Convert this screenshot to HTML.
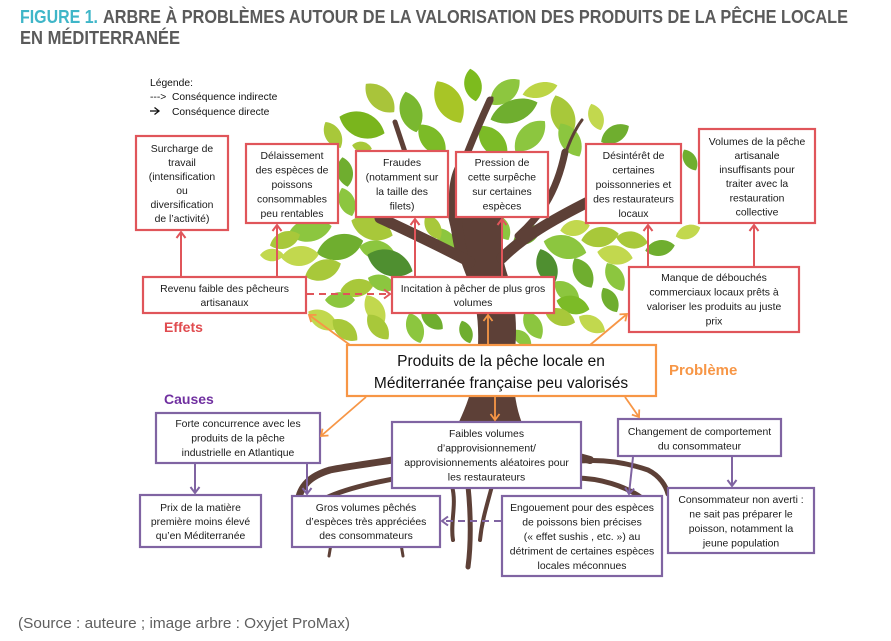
<!DOCTYPE html>
<html>
<head>
<meta charset="utf-8">
<style>
html,body{margin:0;padding:0;background:#fff;}
svg{display:block;}
</style>
</head>
<body>
<svg width="891" height="641" viewBox="0 0 891 641" xmlns="http://www.w3.org/2000/svg" xmlns:xlink="http://www.w3.org/1999/xlink" font-family="'Liberation Sans', Arial, sans-serif">
<defs>
  <path id="lf" d="M-10,0 C-5,-7 5,-7 10,0 C5,7 -5,7 -10,0Z"/>
  <marker id="ar" markerUnits="userSpaceOnUse" markerWidth="12" markerHeight="12" refX="9" refY="6" orient="auto"><path d="M3,1.5 L9,6 L3,10.5" fill="none" stroke="#e0555a" stroke-width="2"/></marker>
  <marker id="ao" markerUnits="userSpaceOnUse" markerWidth="12" markerHeight="12" refX="9" refY="6" orient="auto"><path d="M3,1.5 L9,6 L3,10.5" fill="none" stroke="#f79646" stroke-width="1.8"/></marker>
  <marker id="ap" markerUnits="userSpaceOnUse" markerWidth="12" markerHeight="12" refX="9" refY="6" orient="auto"><path d="M3,1.5 L9,6 L3,10.5" fill="none" stroke="#8064a2" stroke-width="2"/></marker>
  <marker id="ak" markerUnits="userSpaceOnUse" markerWidth="10" markerHeight="10" refX="7" refY="5" orient="auto"><path d="M2.5,1.5 L7,5 L2.5,8.5" fill="none" stroke="#111" stroke-width="1.3"/></marker>
</defs>
<rect width="891" height="641" fill="#fff"/>

<!-- Title -->
<text x="20" y="23" font-size="18.5" font-weight="bold" fill="#3fb6c8" textLength="78" lengthAdjust="spacingAndGlyphs">FIGURE 1.</text>
<text x="103" y="23" font-size="18.5" font-weight="bold" fill="#5a5a5a" textLength="745" lengthAdjust="spacingAndGlyphs">ARBRE À PROBLÈMES AUTOUR DE LA VALORISATION DES PRODUITS DE LA PÊCHE LOCALE</text>
<text x="20" y="44" font-size="18.5" font-weight="bold" fill="#5a5a5a" textLength="160" lengthAdjust="spacingAndGlyphs">EN MÉDITERRANÉE</text>

<!-- Legend -->
<g font-size="10.3" fill="#111">
  <text x="150" y="86">Légende:</text>
  <text x="150" y="100">---&gt;</text>
  <text x="172" y="100">Conséquence indirecte</text>
  <line x1="150" y1="111" x2="159" y2="111" stroke="#111" stroke-width="1.3" marker-end="url(#ak)"/>
  <text x="172" y="115">Conséquence directe</text>
</g>

<!-- Tree leaves -->
<g>
  <!-- top crown -->
  <use xlink:href="#lf" transform="translate(473 85) rotate(80) scale(1.65)" fill="#7dbb1e"/>
  <use xlink:href="#lf" transform="translate(449 102) rotate(60) scale(2.4)" fill="#a8c526"/>
  <use xlink:href="#lf" transform="translate(411 112) rotate(75) scale(2.1)" fill="#7ab830"/>
  <use xlink:href="#lf" transform="translate(380 98) rotate(45) scale(2.0)" fill="#a9c43a"/>
  <use xlink:href="#lf" transform="translate(362 125) rotate(20) scale(2.4)" fill="#7ab51d"/>
  <use xlink:href="#lf" transform="translate(333 135) rotate(60) scale(1.5)" fill="#a8c83a"/>
  <use xlink:href="#lf" transform="translate(432 140) rotate(50) scale(2.0)" fill="#7cbb27"/>
  <use xlink:href="#lf" transform="translate(505 92) rotate(-40) scale(1.9)" fill="#8dc63f"/>
  <use xlink:href="#lf" transform="translate(540 90) rotate(-15) scale(1.8 1.4)" fill="#bdd545"/>
  <use xlink:href="#lf" transform="translate(514 111) rotate(-20) scale(2.5 2.1)" fill="#6fae2f"/>
  <use xlink:href="#lf" transform="translate(563 116) rotate(70) scale(2.2)" fill="#a8c83a"/>
  <use xlink:href="#lf" transform="translate(596 117) rotate(70) scale(1.4)" fill="#c2d84e"/>
  <use xlink:href="#lf" transform="translate(530 136) rotate(-45) scale(2.1)" fill="#8cc63f"/>
  <use xlink:href="#lf" transform="translate(493 142) rotate(50) scale(2.1)" fill="#7cbb27"/>
  <use xlink:href="#lf" transform="translate(615 134) rotate(-30) scale(1.6)" fill="#6fae2f"/>
  <use xlink:href="#lf" transform="translate(570 140) rotate(60) scale(1.9)" fill="#8cc63f"/>
  <use xlink:href="#lf" transform="translate(362 147) rotate(10) scale(1.0)" fill="#a8c83a"/>
  <use xlink:href="#lf" transform="translate(345 172) rotate(80) scale(1.5)" fill="#6fae2f"/>
  <use xlink:href="#lf" transform="translate(347 202) rotate(70) scale(1.5)" fill="#8cc63f"/>
  <use xlink:href="#lf" transform="translate(690 160) rotate(60) scale(1.2)" fill="#6fae2f"/>
  <use xlink:href="#lf" transform="translate(688 232) rotate(-20) scale(1.3)" fill="#c2d84e"/>
  <!-- middle -->
  <use xlink:href="#lf" transform="translate(310 230) rotate(-10) scale(2.2)" fill="#8cc63f"/>
  <use xlink:href="#lf" transform="translate(340 247) rotate(-15) scale(2.4)" fill="#6fae2f"/>
  <use xlink:href="#lf" transform="translate(300 256) rotate(-5) scale(1.9)" fill="#c2d84e"/>
  <use xlink:href="#lf" transform="translate(372 228) rotate(20) scale(2.2)" fill="#a8c83a"/>
  <use xlink:href="#lf" transform="translate(377 250) rotate(10) scale(1.8)" fill="#8cc63f"/>
  <use xlink:href="#lf" transform="translate(323 270) rotate(-20) scale(1.9)" fill="#a8c83a"/>
  <use xlink:href="#lf" transform="translate(390 263) rotate(20) scale(2.4)" fill="#4f8f30"/>
  <use xlink:href="#lf" transform="translate(447 242) rotate(60) scale(1.6)" fill="#8cc63f"/>
  <use xlink:href="#lf" transform="translate(433 227) rotate(60) scale(1.4)" fill="#a8c83a"/>
  <use xlink:href="#lf" transform="translate(501 227) rotate(60) scale(1.5)" fill="#8cc63f"/>
  <use xlink:href="#lf" transform="translate(527 235) rotate(-30) scale(1.6)" fill="#6fae2f"/>
  <use xlink:href="#lf" transform="translate(565 247) rotate(15) scale(2.2)" fill="#8cc63f"/>
  <use xlink:href="#lf" transform="translate(547 267) rotate(70) scale(1.9)" fill="#4f8f30"/>
  <use xlink:href="#lf" transform="translate(583 273) rotate(60) scale(1.7)" fill="#6fae2f"/>
  <use xlink:href="#lf" transform="translate(600 237) rotate(-10) scale(1.9)" fill="#a8c83a"/>
  <use xlink:href="#lf" transform="translate(615 255) rotate(10) scale(1.8)" fill="#c2d84e"/>
  <use xlink:href="#lf" transform="translate(615 277) rotate(60) scale(1.6)" fill="#8cc63f"/>
  <use xlink:href="#lf" transform="translate(567 292) rotate(40) scale(1.6)" fill="#8cc63f"/>
  <use xlink:href="#lf" transform="translate(573 305) rotate(15) scale(1.7)" fill="#7cbb27"/>
  <use xlink:href="#lf" transform="translate(632 240) rotate(10) scale(1.6)" fill="#a8c83a"/>
  <use xlink:href="#lf" transform="translate(575 228) rotate(-10) scale(1.5)" fill="#c2d84e"/>
  <use xlink:href="#lf" transform="translate(285 240) rotate(-20) scale(1.6)" fill="#a8c83a"/>
  <use xlink:href="#lf" transform="translate(272 255) rotate(0) scale(1.2)" fill="#c2d84e"/>
  <use xlink:href="#lf" transform="translate(660 248) rotate(-10) scale(1.5)" fill="#6fae2f"/>
  <!-- lower -->
  <use xlink:href="#lf" transform="translate(357 288) rotate(-10) scale(1.7)" fill="#a8c83a"/>
  <use xlink:href="#lf" transform="translate(382 283) rotate(20) scale(1.5)" fill="#8cc63f"/>
  <use xlink:href="#lf" transform="translate(375 310) rotate(60) scale(1.7)" fill="#c2d84e"/>
  <use xlink:href="#lf" transform="translate(323 320) rotate(30) scale(1.7)" fill="#c2d84e"/>
  <use xlink:href="#lf" transform="translate(345 330) rotate(40) scale(1.6)" fill="#a8c83a"/>
  <use xlink:href="#lf" transform="translate(378 327) rotate(50) scale(1.6)" fill="#a8c83a"/>
  <use xlink:href="#lf" transform="translate(415 328) rotate(70) scale(1.6)" fill="#8cc63f"/>
  <use xlink:href="#lf" transform="translate(432 320) rotate(40) scale(1.4)" fill="#6fae2f"/>
  <use xlink:href="#lf" transform="translate(466 332) rotate(70) scale(1.2)" fill="#6fae2f"/>
  <use xlink:href="#lf" transform="translate(533 325) rotate(60) scale(1.6)" fill="#8cc63f"/>
  <use xlink:href="#lf" transform="translate(560 317) rotate(20) scale(1.6)" fill="#a8c83a"/>
  <use xlink:href="#lf" transform="translate(592 324) rotate(30) scale(1.5)" fill="#c2d84e"/>
  <use xlink:href="#lf" transform="translate(610 300) rotate(60) scale(1.4)" fill="#6fae2f"/>
  <use xlink:href="#lf" transform="translate(340 300) rotate(0) scale(1.5)" fill="#8cc63f"/>
  <use xlink:href="#lf" transform="translate(522 338) rotate(40) scale(1.2)" fill="#8cc63f"/>
</g>

<!-- Trunk and branches -->
<g fill="#5d4037" stroke="none">
  <path d="M446,205 C450,230 458,255 468,280 C476,300 479,320 478,345 C477,375 470,400 456,428 L524,428 C514,405 512,380 515,350 C518,320 514,295 506,270 C500,250 500,230 506,205 Z"/>
</g>
<g fill="none" stroke="#5d4037" stroke-linecap="round">
  <path d="M462,255 C455,225 451,190 460,170" stroke-width="12"/>
  <path d="M460,172 C470,145 480,122 490,100" stroke-width="7"/>
  <path d="M484,112 C487,106 489,102 492,98" stroke-width="3"/>
  <path d="M470,262 C440,246 410,232 380,218" stroke-width="11"/>
  <path d="M385,221 C375,215 368,212 360,208" stroke-width="5"/>
  <path d="M406,155 L395,122" stroke-width="5"/>
  <path d="M502,258 C522,238 548,222 592,200" stroke-width="11"/>
  <path d="M518,236 C538,218 556,196 565,152" stroke-width="7"/>
  <path d="M565,155 C570,140 576,128 582,120" stroke-width="3"/>
</g>
<!-- Roots -->
<g fill="none" stroke="#5d4037" stroke-linecap="round">
  <path d="M470,440 C430,458 370,462 330,470 C310,476 300,486 298,502" stroke-width="7"/>
  <path d="M440,470 C400,478 350,485 322,500" stroke-width="5"/>
  <path d="M300,500 C296,508 295,515 294,522" stroke-width="3"/>
  <path d="M331,544 L329,556" stroke-width="3"/>
  <path d="M401,544 L403,556" stroke-width="3"/>
  <path d="M452,486 C457,505 450,522 453,540" stroke-width="4"/>
  <path d="M468,486 C471,515 471,545 468,567" stroke-width="5"/>
  <path d="M492,486 C487,505 482,520 480,540" stroke-width="4"/>
  <path d="M570,462 C600,458 625,462 648,470 C660,476 666,486 668,494" stroke-width="5"/>
  <path d="M575,478 C600,478 625,486 642,498" stroke-width="5"/>
  <path d="M490,425 C520,440 560,452 590,460" stroke-width="8"/>
  <path d="M480,425 C455,440 420,452 395,458" stroke-width="8"/>
</g>

<!-- Red boxes -->
<g fill="#fff" stroke="#e0555a" stroke-width="2.2">
  <rect x="136" y="136" width="92" height="94"/>
  <rect x="246" y="144" width="92" height="79"/>
  <rect x="356" y="151" width="92" height="66"/>
  <rect x="456" y="152" width="92" height="65"/>
  <rect x="586" y="144" width="95" height="79"/>
  <rect x="699" y="129" width="116" height="94"/>
  <rect x="143" y="277" width="163" height="36"/>
  <rect x="392" y="277" width="162" height="36"/>
  <rect x="629" y="267" width="170" height="65"/>
</g>
<!-- Orange central box -->
<rect x="347" y="345" width="309" height="51" fill="#fff" stroke="#f79646" stroke-width="2.2"/>
<!-- Purple boxes -->
<g fill="#fff" stroke="#8064a2" stroke-width="2.2">
  <rect x="156" y="413" width="164" height="50"/>
  <rect x="140" y="495" width="121" height="52"/>
  <rect x="292" y="496" width="148" height="51"/>
  <rect x="392" y="422" width="189" height="66"/>
  <rect x="618" y="419" width="163" height="37"/>
  <rect x="502" y="496" width="160" height="80"/>
  <rect x="668" y="488" width="146" height="65"/>
</g>

<!-- Red arrows -->
<g stroke="#e0555a" stroke-width="2" fill="none">
  <line x1="181" y1="277" x2="181" y2="232" marker-end="url(#ar)"/>
  <line x1="277" y1="277" x2="277" y2="225" marker-end="url(#ar)"/>
  <line x1="415" y1="277" x2="415" y2="219" marker-end="url(#ar)"/>
  <line x1="502" y1="277" x2="502" y2="219" marker-end="url(#ar)"/>
  <line x1="648" y1="267" x2="648" y2="225" marker-end="url(#ar)"/>
  <line x1="754" y1="267" x2="754" y2="225" marker-end="url(#ar)"/>
  <line x1="307" y1="294" x2="390" y2="294" stroke-dasharray="7 5" marker-end="url(#ar)"/>
</g>
<!-- Orange arrows -->
<g stroke="#f79646" stroke-width="1.8" fill="none">
  <line x1="350" y1="345" x2="309" y2="315" marker-end="url(#ao)"/>
  <line x1="488" y1="345" x2="488" y2="315" marker-end="url(#ao)"/>
  <line x1="590" y1="345" x2="627" y2="314" marker-end="url(#ao)"/>
  <line x1="366" y1="397" x2="321" y2="436" marker-end="url(#ao)"/>
  <line x1="495" y1="397" x2="495" y2="420" marker-end="url(#ao)"/>
  <line x1="625" y1="397" x2="639" y2="417" marker-end="url(#ao)"/>
</g>
<!-- Purple arrows -->
<g stroke="#8064a2" stroke-width="2" fill="none">
  <line x1="195" y1="464" x2="195" y2="493" marker-end="url(#ap)"/>
  <line x1="307" y1="464" x2="307" y2="494" marker-end="url(#ap)"/>
  <line x1="633" y1="457" x2="629" y2="494" marker-end="url(#ap)"/>
  <line x1="732" y1="457" x2="732" y2="486" marker-end="url(#ap)"/>
  <line x1="501" y1="521" x2="442" y2="521" stroke-dasharray="7 5" marker-end="url(#ap)"/>
</g>

<!-- Box texts -->
<g font-size="10.4" fill="#1a1a1a" text-anchor="middle">
  <text x="182" y="152">Surcharge de</text>
  <text x="182" y="166">travail</text>
  <text x="182" y="180">(intensification</text>
  <text x="182" y="194">ou</text>
  <text x="182" y="208">diversification</text>
  <text x="182" y="222">de l’activité)</text>

  <text x="292" y="159">Délaissement</text>
  <text x="292" y="173.5">des espèces de</text>
  <text x="292" y="188">poissons</text>
  <text x="292" y="202.5">consommables</text>
  <text x="292" y="217">peu rentables</text>

  <text x="402" y="166">Fraudes</text>
  <text x="402" y="180.5">(notamment sur</text>
  <text x="402" y="195">la taille des</text>
  <text x="402" y="209.5">filets)</text>

  <text x="502" y="166">Pression de</text>
  <text x="502" y="180.5">cette surpêche</text>
  <text x="502" y="195">sur certaines</text>
  <text x="502" y="209.5">espèces</text>

  <text x="633.5" y="159">Désintérêt de</text>
  <text x="633.5" y="173.5">certaines</text>
  <text x="633.5" y="188">poissonneries et</text>
  <text x="633.5" y="202.5">des restaurateurs</text>
  <text x="633.5" y="217">locaux</text>

  <text x="757" y="145">Volumes de la pêche</text>
  <text x="757" y="159">artisanale</text>
  <text x="757" y="173">insuffisants pour</text>
  <text x="757" y="187">traiter avec la</text>
  <text x="757" y="201.5">restauration</text>
  <text x="757" y="215.5">collective</text>

  <text x="224.5" y="292">Revenu faible des pêcheurs</text>
  <text x="224.5" y="306">artisanaux</text>

  <text x="473" y="292">Incitation à pêcher de plus gros</text>
  <text x="473" y="306">volumes</text>

  <text x="714" y="281">Manque de débouchés</text>
  <text x="714" y="295.5">commerciaux locaux prêts à</text>
  <text x="714" y="310">valoriser les produits au juste</text>
  <text x="714" y="324.5">prix</text>

  <text x="238" y="427">Forte concurrence avec les</text>
  <text x="238" y="441.5">produits de la pêche</text>
  <text x="238" y="456">industrielle en Atlantique</text>

  <text x="200.5" y="511">Prix de la matière</text>
  <text x="200.5" y="525">première moins élevé</text>
  <text x="200.5" y="539">qu’en Méditerranée</text>

  <text x="366" y="511">Gros volumes pêchés</text>
  <text x="366" y="525">d’espèces très appréciées</text>
  <text x="366" y="539">des consommateurs</text>

  <text x="486.5" y="437">Faibles volumes</text>
  <text x="486.5" y="451.5">d’approvisionnement/</text>
  <text x="486.5" y="466">approvisionnements aléatoires pour</text>
  <text x="486.5" y="480.5">les restaurateurs</text>

  <text x="699.5" y="435">Changement de comportement</text>
  <text x="699.5" y="449.5">du consommateur</text>

  <text x="582" y="511">Engouement pour des espèces</text>
  <text x="582" y="525.5">de poissons bien précises</text>
  <text x="582" y="540">(« effet sushis , etc. ») au</text>
  <text x="582" y="554.5">détriment de certaines espèces</text>
  <text x="582" y="569">locales méconnues</text>

  <text x="741" y="503">Consommateur non averti :</text>
  <text x="741" y="517.5">ne sait pas préparer le</text>
  <text x="741" y="532">poisson, notamment la</text>
  <text x="741" y="546.5">jeune population</text>
</g>

<!-- Central text -->
<g font-size="15.5" fill="#111" text-anchor="middle">
  <text x="501" y="366">Produits de la pêche locale en</text>
  <text x="501" y="388">Méditerranée française peu valorisés</text>
</g>

<!-- Section labels -->
<text x="164" y="332" font-size="14" font-weight="bold" fill="#e04b4f">Effets</text>
<text x="164" y="404" font-size="14" font-weight="bold" fill="#7030a0">Causes</text>
<text x="669" y="375" font-size="15" font-weight="bold" fill="#f79646">Problème</text>

<!-- Source -->
<text x="18" y="628" font-size="14.5" fill="#5f5f5f" textLength="332" lengthAdjust="spacingAndGlyphs">(Source : auteure ; image arbre : Oxyjet ProMax)</text>
</svg>
</body>
</html>
